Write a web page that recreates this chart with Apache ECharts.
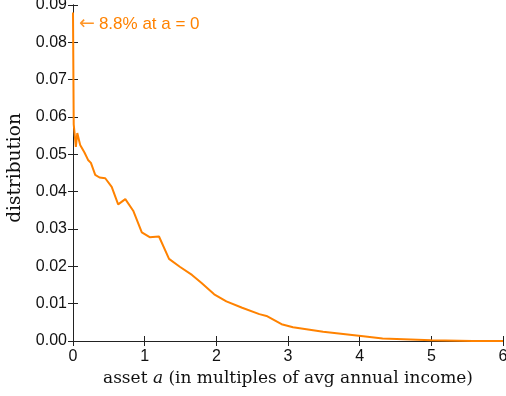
<!DOCTYPE html>
<html>
<head>
<meta charset="utf-8">
<script src="https://cdn.jsdelivr.net/npm/echarts@6/dist/echarts.min.js"></script>
<style>
  html, body { margin: 0; padding: 0; background: #fff; }
  #main { width: 506px; height: 396px; }
</style>
</head>
<body>
<div id="main"></div>
<script>
// asset grid (multiples of avg annual income) and share of households
var assetA = [0, 0.01, 0.04, 0.06, 0.1, 0.16, 0.21, 0.25, 0.31, 0.37, 0.45, 0.54, 0.63, 0.73, 0.84, 0.96,
    1.07, 1.2, 1.34, 1.49, 1.66, 1.79, 1.97, 2.14, 2.36, 2.6, 2.7, 2.91, 3.07, 3.49, 4.05, 4.32, 5.0, 5.58, 6.0];
var distribution = [0.088, 0.058, 0.052, 0.0557, 0.0525, 0.0505, 0.0485, 0.0477, 0.0445, 0.0438, 0.0436, 0.0413, 0.0366, 0.038, 0.0349, 0.0291,
    0.0278, 0.028, 0.022, 0.0199, 0.0177, 0.0156, 0.0125, 0.0106, 0.0089, 0.0072, 0.0067, 0.0045, 0.0037, 0.0025, 0.0013, 0.0007, 0.0002, 0.0, 0.0];
var xTicks = [0, 1, 2, 3, 4, 5, 6];
var yTicks = [0, 0.01, 0.02, 0.03, 0.04, 0.05, 0.06, 0.07, 0.08, 0.09];
var noteArrow = '\u2190';
var noteText = '8.8% at a = 0';

var lineColor = '#ff8200';
var axisColor = '#222';

var seriesData = [];
for (var i = 0; i < assetA.length; i++) {
    seriesData.push([assetA[i], distribution[i]]);
}

var myChart = echarts.init(document.getElementById('main'));

var tickLabel = {
    color: '#111',
    fontFamily: 'Liberation Sans',
    fontSize: 16
};

var option = {
    animation: false,
    grid: {left: 73, right: 3, top: 5, bottom: 55, outerBoundsMode: 'none'},
    xAxis: [
        {
            type: 'value',
            min: xTicks[0],
            max: xTicks[xTicks.length - 1],
            interval: 1,
            position: 'bottom',
            name: '{n|asset }{i|a}{n| (in multiples of avg annual income)}',
            nameLocation: 'middle',
            nameGap: 26,
            nameTextStyle: {
                rich: {
                    n: {fontFamily: 'DejaVu Serif', fontSize: 17, color: '#111'},
                    i: {fontFamily: 'DejaVu Serif', fontStyle: 'italic', fontSize: 17, color: '#111'}
                }
            },
            axisLine: {lineStyle: {color: axisColor, width: 1}},
            axisTick: {inside: true, length: 5, lineStyle: {color: axisColor}},
            axisLabel: Object.assign({margin: 8}, tickLabel),
            splitLine: {show: false}
        },
        {
            type: 'value',
            min: xTicks[0],
            max: xTicks[xTicks.length - 1],
            interval: 1,
            position: 'top',
            axisLine: {lineStyle: {color: axisColor, width: 1}},
            axisTick: {inside: true, length: 5, lineStyle: {color: axisColor}},
            axisLabel: {show: false},
            splitLine: {show: false}
        }
    ],
    yAxis: [
        {
            type: 'value',
            min: yTicks[0],
            max: yTicks[yTicks.length - 1],
            interval: 0.01,
            position: 'left',
            name: 'distribution',
            nameLocation: 'middle',
            nameGap: 46,
            nameTextStyle: {fontFamily: 'DejaVu Serif', fontSize: 18.5, color: '#111', padding: [0, 0, 0, 10]},
            axisLine: {show: true, lineStyle: {color: axisColor, width: 1}},
            axisTick: {show: true, inside: true, length: 5, lineStyle: {color: axisColor}},
            axisLabel: Object.assign({
                margin: 6,
                formatter: function (v) { return v.toFixed(2); }
            }, tickLabel),
            splitLine: {show: false}
        },
        {
            type: 'value',
            min: yTicks[0],
            max: yTicks[yTicks.length - 1],
            interval: 0.01,
            position: 'right',
            axisLine: {show: true, lineStyle: {color: axisColor, width: 1}},
            axisTick: {show: true, inside: true, length: 5, lineStyle: {color: axisColor}},
            axisLabel: {show: false},
            splitLine: {show: false}
        }
    ],
    series: [
        {
            type: 'line',
            data: seriesData,
            showSymbol: false,
            symbol: 'none',
            lineStyle: {color: lineColor, width: 2},
            z: 3
        }
    ],
    graphic: [
        {
            type: 'text',
            left: 79,
            top: 15,
            style: {
                text: '{a|' + noteArrow + '}{t|' + noteText + '}',
                rich: {
                    a: {fill: lineColor, fontFamily: 'DejaVu Sans', fontSize: 19, opacity: 0.85},
                    t: {fill: lineColor, fontFamily: 'Liberation Sans', fontSize: 17, padding: [0, 0, 0, 4]}
                }
            }
        }
    ]
};

myChart.setOption(option);
</script>
</body>
</html>
